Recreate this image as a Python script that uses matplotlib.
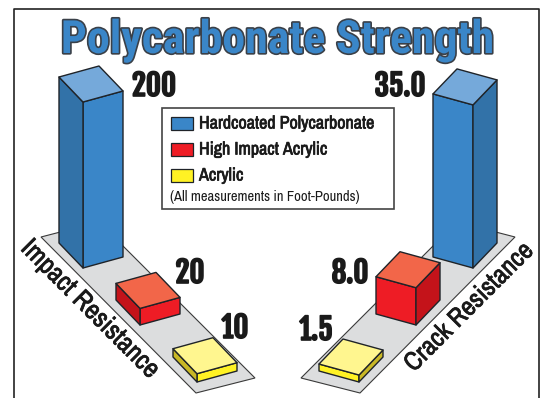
import matplotlib
matplotlib.use('Agg')
import matplotlib.pyplot as plt
import matplotlib.patheffects as pe
from matplotlib.patches import Polygon, Rectangle
import logging
logging.getLogger('matplotlib.font_manager').setLevel(logging.ERROR)

NARROW = ['Archivo Narrow', 'Roboto Condensed', 'Liberation Sans']
HEAVY = ['Fjalla One', 'Anton', 'Archivo Narrow', 'Liberation Sans']
TITLE_FONT = ['Roboto Condensed', 'Fjalla One', 'Liberation Sans']
plt.rcParams['font.family'] = NARROW

title = 'Polycarbonate Strength'
materials = ['Hardcoated Polycarbonate', 'High Impact Acrylic', 'Acrylic']
note = '(All measurements in Foot-Pounds)'
impact_values = [200, 20, 10]
impact_labels = ['200', '20', '10']
crack_values = [35.0, 8.0, 1.5]
crack_labels = ['35.0', '8.0', '1.5']

front_cols = ['#3a86c8', '#ee1c25', '#fff224']
side_cols = ['#3272a8', '#c4131a', '#c9b825']
top_cols = ['#75a9da', '#f26649', '#fff68f']
INK = '#1f2328'
TXT = '#1a1a1a'

fig = plt.figure(figsize=(5.42, 3.98), dpi=100)
ax = fig.add_axes([0, 0, 1, 1])
ax.set_xlim(0, 542)
ax.set_ylim(398, 0)
ax.axis('off')


def draw_row(values, px_per_unit, mirror):
    def p(x, y):
        return (556 - x, y) if mirror else (x, y)
    floor = [p(41, 237), p(99, 222), p(255, 378), p(196, 393)]
    ax.add_patch(Polygon(floor, fc='#dcddde', ec='#3a3a3a', lw=0.8, zorder=1))
    for i, val in enumerate(values):
        fx = 83 + 57 * i
        fy = 268 + 57 * i
        h = val * px_per_unit
        front = [p(fx, fy), p(fx + 40, fy - 11), p(fx + 40, fy - 11 - h), p(fx, fy - h)]
        side = [p(fx, fy), p(fx - 24, fy - 25), p(fx - 24, fy - 25 - h), p(fx, fy - h)]
        top = [p(fx, fy - h), p(fx + 40, fy - 11 - h), p(fx + 16, fy - 36 - h), p(fx - 24, fy - 25 - h)]
        for pts, col in [(front, front_cols[i]), (side, side_cols[i]), (top, top_cols[i])]:
            ax.add_patch(Polygon(pts, fc=col, ec=INK, lw=1, joinstyle='round', zorder=2 + i))


draw_row(impact_values, 0.83, False)
draw_row(crack_values, 4.66, True)

# frame, open at the bottom
ax.plot([14, 14, 539, 539], [398, 8.5, 8.5, 398], color='#222222', lw=1.2, zorder=1)

ax.text(277.5, 40, title, fontsize=33, family=TITLE_FONT, fontweight='bold', color=front_cols[0], ha='center', va='center',
        path_effects=[pe.withStroke(linewidth=2.4, foreground='#3a4048')], zorder=6)

fat = [pe.withStroke(linewidth=1.2, foreground=TXT)]
thin = [pe.withStroke(linewidth=0.5, foreground=TXT)]
label_pos_l = [(154, 86), (190, 273), (235, 328)]
label_pos_r = [(400, 86), (350, 273), (316, 330)]
for lab, pos in zip(impact_labels, label_pos_l):
    ax.text(pos[0], pos[1], lab, fontsize=21, family=HEAVY, color=TXT, ha='center', va='center', path_effects=fat, zorder=6)
for lab, pos in zip(crack_labels, label_pos_r):
    ax.text(pos[0], pos[1], lab, fontsize=21, family=HEAVY, color=TXT, ha='center', va='center', path_effects=fat, zorder=6)

ax.text(90, 309, 'Impact Resistance', fontsize=19.5, fontweight='bold', color=TXT, rotation=-45,
        rotation_mode='anchor', ha='center', va='center', path_effects=thin, zorder=6)
ax.text(469, 307, 'Crack Resistance', fontsize=19, fontweight='bold', color=TXT, rotation=45,
        rotation_mode='anchor', ha='center', va='center', path_effects=thin, zorder=6)

# legend box
ax.add_patch(Rectangle((162, 108), 232, 101, fc='white', ec='#444444', lw=1.2, zorder=7))
for y, name, col in zip([117, 143, 169], materials, front_cols):
    ax.add_patch(Rectangle((171, y), 22, 12.5, fc=col, ec=INK, lw=0.9, zorder=8))
    ax.text(199, y + 6.5, name, fontsize=13, fontweight='bold', color=TXT, va='center', path_effects=thin, zorder=8)
ax.text(170, 197, note, fontsize=10.5, color=TXT, va='center', zorder=8)

fig.savefig('out.png', dpi=100)
